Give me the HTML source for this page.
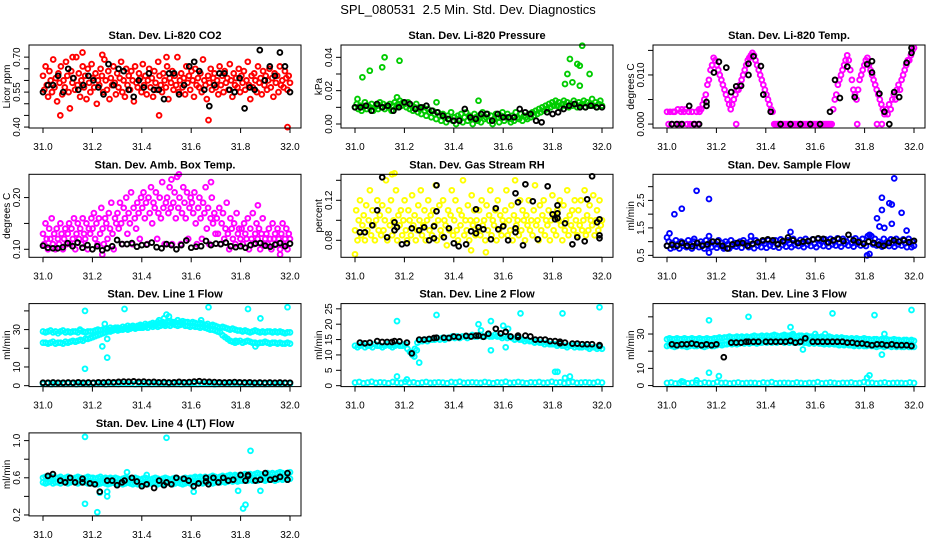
<!DOCTYPE html>
<html><head><meta charset="utf-8"><title>SPL_080531 2.5 Min. Std. Dev. Diagnostics</title>
<style>
html,body{margin:0;padding:0;background:#fff;}
svg{display:block;font-family:"Liberation Sans",Arial,sans-serif;}
</style></head>
<body>
<svg id="chart" width="936" height="540" viewBox="0 0 936 540" xmlns="http://www.w3.org/2000/svg">
<rect x="0" y="0" width="936" height="540" fill="#fff"/>
<text x="468" y="14" text-anchor="middle" font-size="13" style="white-space:pre">SPL_080531  2.5 Min. Std. Dev. Diagnostics</text>
</svg>
<script>
// ---------- DATA ----------
const xTicks = [31.0, 31.2, 31.4, 31.6, 31.8, 32.0];
const xTickLabels = ["31.0", "31.2", "31.4", "31.6", "31.8", "32.0"];

// Panel 1: CO2
const co2Red = [.62,.56,.66,.58,.53,.64,.60,.55,.69,.57,.61,.51,.63,.59,.66,.54,.60,.57,.68,.62,.55,.48,.64,.59,.61,.56,.70,.58,.63,.53,.60,.66,.57,.62,.52,.65,.59,.55,.67,.61,.57,.63,.50,.60,.58,.65,.62,.55,.69,.60,.56,.64,.52,.61,.58,.66,.59,.54,.63,.57,.61,.68,.55,.60,.53,.65,.58,.62,.56,.64,.60,.51,.66,.59,.57,.63,.61,.55,.67,.58,.62,.54,.60,.65,.57,.61,.53,.64,.59,.56,.68,.62,.58,.55,.63,.60,.57,.66,.52,.61,.59,.64,.56,.62,.58,.70,.55,.60,.63,.57,.61,.54,.66,.59,.62,.56,.64,.60,.53,.65,.58,.61,.57,.63,.55,.69,.60,.58,.52,.62,.59,.65,.56,.61,.63,.57,.60,.54,.66,.58,.62,.55,.64,.59,.61,.56,.67,.60,.53,.63,.58,.61,.57,.65,.55,.62,.59,.64,.56,.60,.68,.58,.52,.62,.57,.63,.60,.55,.66,.59,.61,.54,.64,.58,.62,.56,.60,.65,.57,.61,.53,.63,.59,.62,.55,.66,.58,.60,.57,.64,.61,.56,.62,.59];
const co2OutX = [31.07,31.16,31.47,31.67,31.99,31.12,31.24,31.50];
const co2OutY = [.45,.72,.45,.43,.40,.70,.71,.70];
const co2Black = [.55,.58,.58,.62,.55,.65,.61,.56,.58,.62,.60,.57,.54,.67,.58,.65,.64,.56,.53,.60,.57,.63,.56,.56,.52,.63,.63,.54,.58,.66,.68,.64,.56,.49,.58,.63,.63,.56,.55,.61,.48,.57,.56,.73,.60,.66,.62,.72,.66,.55];

// Panel 2: Pressure
const presGreen = [.010,.012,.009,.011,.008,.010,.013,.009,.011,.010,.012,.008,.010,.011,.009,.013,.010,.012,.009,.011,.010,.012,.008,.011,.013,.010,.012,.014,.011,.013,
.012,.010,.013,.009,.011,.008,.010,.012,.007,.009,.006,.010,.008,.005,.009,.007,.004,.008,.006,.003,.007,.005,
.002,.006,.004,.001,.005,.003,.007,.002,.004,.000,.005,.003,.006,.001,.004,.007,.002,.005,.003,.000,.006,.004,.002,.005,.001,.007,.003,.004,.006,.002,.005,.000,.003,.006,.004,.001,.005,.007,.002,.004,.006,.003,.001,.005,.002,.007,.004,.003,.006,.002,.005,.004,
.003,.006,.004,.007,.005,.008,.006,.009,.007,.010,.008,.011,.009,.012,.010,.013,.011,.014,
.011,.013,.010,.012,.014,.011,.013,.010,.012,.011,.014,.012,.010,.013,.011,.012,.014,.010,.013,.011,.012,.015,.011,.013,.010,.012,.014,.011];
const presOutX = [31.03,31.06,31.11,31.12,31.18,31.85,31.86,31.87,31.88,31.90,31.91,31.91,31.92,31.95,31.50,31.33,31.01,31.17];
const presOutY = [.028,.032,.034,.040,.038,.024,.030,.039,.025,.036,.035,.023,.047,.030,.014,.013,.015,.016];
const presBlack = [.010,.010,.011,.008,.012,.010,.011,.008,.010,.013,.012,.009,.010,.011,.008,.007,.005,.003,.002,.002,.009,.004,.003,.006,.006,.002,.006,.004,.004,.004,.009,.007,.006,.002,.001,.007,.006,.007,.009,.011,.012,.010,.010,.011,.010,.010];

// Panel 3: Li-820 Temp
const tempMag = [.0025,0,.0025,0,.0025,.0025,0,.003,0,.0025,0,.0025,.003,0,.0025,0,.0025,0,0,.0025,0,.0025,.003,.004,
.005,.006,.008,.009,.011,.012,.0135,.013,
.012,.011,.010,.009,.008,.007,.006,.005,.004,.003,
.004,.005,.006,.007,.007,.008,.009,.010,.011,.012,.013,.0135,.014,.0145,
.014,.013,.012,.011,.010,.009,.008,.007,.006,.005,.004,.003,.0025,
0,0,0,0,0,0,0,0,0,0,0,0,0,0,0,0,0,0,0,0,0,0,0,0,0,0,0,0,0,0,0,0,0,0,0,0,0,0,
.003,.005,.006,.008,.009,.010,.011,.012,.013,.014,
.013,.011,.009,.007,.006,.005,
.007,.009,.010,.011,.012,.013,.0135,
.012,.011,.010,.009,.008,.007,.006,.005,.004,.003,.002,
.003,.002,.004,.003,.005,.006,.005,.007,.008,.007,.009,.010,.011,.012,.013,.013,.014,.015,.0155];
const tempOutX = [31.28,31.77,31.85,31.87,31.06,31.13];
const tempOutY = [0,0,0,0,.003,.003];
const tempBlackX = [31.02,31.04,31.06,31.09,31.11,31.13,31.16,31.16,31.19,31.21,31.24,31.26,31.28,31.30,31.33,31.33,31.35,31.38,31.39,31.42,31.46,31.50,31.54,31.58,31.62,31.66,31.68,31.70,31.73,31.76,31.81,31.83,31.83,31.86,31.88,31.90,31.92,31.94,31.97,31.99,31.99];
const tempBlackY = [0,0,0,.0037,0,0,.0045,.0037,.0105,.0127,.0115,.0065,.0077,.0078,.0100,.0123,.0138,.0118,.0060,.0025,0,0,0,0,0,.0025,.0090,.0053,.0117,.0055,.0122,.0128,.0105,.0062,.0025,0,.0065,.0055,.0125,.0145,.0155];

// Panel 4: Amb. Box Temp
const ambMag = [.13,.11,.15,.12,.10,.14,.12,.16,.11,.13,.10,.14,.12,.11,.15,.13,.10,.12,.14,.11,
.13,.15,.11,.14,.12,.16,.10,.13,.15,.12,.14,.11,.16,.13,.12,.15,.10,.14,.13,.16,
.14,.17,.12,.15,.11,.16,.13,.18,.14,.11,.16,.15,.12,.17,.14,.19,.13,.10,.16,.15,
.17,.14,.19,.15,.11,.18,.16,.20,.13,.17,.15,.21,.11,.18,.16,.14,.19,.17,.12,.20,
.18,.21,.16,.19,.11,.20,.17,.22,.15,.19,.18,.21,.12,.17,.20,.16,.23,.18,.11,.19,
.20,.17,.22,.18,.11,.19,.21,.16,.24,.18,.20,.11,.17,.22,.19,.16,.21,.12,.18,.20,
.19,.17,.21,.15,.11,.18,.20,.16,.12,.19,.17,.22,.14,.18,.11,.16,.20,.15,.17,.13,
.16,.13,.18,.11,.15,.17,.12,.14,.19,.13,.10,.16,.14,.12,.15,.11,.17,.13,.14,.12,
.14,.11,.15,.13,.12,.16,.10,.14,.12,.17,.11,.13,.15,.12,.14,.10,.13,.16,.11,.12,
.13,.11,.14,.12,.10,.15,.12,.13,.11,.14,.12,.10,.13,.15,.11,.12,.14,.10,.13,.12];
const ambOutX = [31.55,31.52,31.68,31.24,31.96,31.87];
const ambOutY = [.245,.235,.23,.09,.09,.185];
const ambBlack = [.107,.103,.102,.102,.104,.112,.106,.113,.103,.108,.100,.106,.098,.102,.106,.118,.110,.110,.112,.105,.108,.109,.113,.104,.102,.110,.108,.100,.108,.117,.103,.105,.106,.116,.108,.111,.110,.113,.106,.104,.106,.103,.108,.111,.112,.107,.105,.109,.112,.106,.111];

// Panel 5: Gas Stream RH
const rhYellow = [.09,.11,.08,.10,.12,.085,.095,.105,.08,.115,.09,.10,.13,.085,.11,.095,.08,.10,.12,.09,
.105,.085,.115,.09,.10,.14,.08,.11,.095,.12,.085,.10,.09,.13,.08,.105,.095,.11,.085,.10,
.12,.09,.08,.11,.10,.085,.125,.095,.105,.08,.09,.115,.10,.13,.085,.095,.11,.08,.10,.12,
.09,.105,.085,.11,.095,.135,.08,.10,.115,.09,.085,.12,.10,.095,.075,.11,.09,.105,.13,.085,
.10,.12,.09,.08,.11,.095,.105,.14,.085,.10,.09,.115,.08,.10,.125,.095,.11,.085,.10,.09,
.11,.085,.12,.095,.10,.08,.115,.09,.105,.13,.085,.10,.095,.11,.08,.12,.09,.105,.085,.10,
.095,.11,.13,.085,.10,.09,.115,.08,.105,.14,.095,.10,.085,.12,.09,.11,.10,.08,.105,.095,
.12,.09,.10,.085,.11,.135,.095,.10,.08,.115,.09,.105,.12,.085,.10,.095,.11,.08,.10,.125,
.09,.105,.085,.11,.10,.12,.095,.08,.115,.09,.10,.13,.085,.105,.095,.11,.09,.12,.10,.085,
.11,.095,.12,.09,.10,.13,.085,.105,.09,.115,.10,.095,.125,.085,.10,.11,.09,.12,.095,.10];
const rhOutX = [31.0,31.15,31.16,31.47,31.53];
const rhOutY = [.066,.146,.147,.070,.068];
const rhBlackX = [31.02,31.04,31.07,31.09,31.11,31.13,31.16,31.16,31.17,31.19,31.21,31.23,31.26,31.28,31.30,31.32,31.32,31.33,31.33,31.36,31.38,31.40,31.42,31.45,31.47,31.49,31.49,31.50,31.52,31.55,31.57,31.58,31.60,31.62,31.65,31.65,31.65,31.66,31.68,31.69,31.72,31.74,31.78,31.80,31.81,31.82,31.82,31.82,31.85,31.88,31.90,31.93,31.94,31.96,31.98,31.99,31.99,31.99];
const rhBlackY = [.088,.088,.095,.110,.143,.083,.098,.090,.093,.076,.077,.092,.090,.093,.080,.082,.094,.109,.135,.083,.092,.077,.074,.076,.089,.087,.111,.093,.091,.081,.112,.091,.094,.080,.092,.088,.127,.118,.075,.136,.119,.081,.134,.106,.101,.102,.115,.107,.097,.076,.083,.079,.121,.144,.098,.101,.082,.085];

// Panel 6: Sample Flow
const flowBlue = [.85,1.0,.75,.95,.8,1.05,.9,.75,1.0,.85,.95,.8,1.05,.9,.75,1.0,.85,.95,.8,1.0,
.9,.75,1.05,.85,.95,.8,1.0,.9,.78,1.05,.85,.95,.8,1.0,.9,.75,1.05,.85,.95,.82,
.9,1.0,.78,1.05,.88,.95,.8,1.02,.9,.76,1.05,.86,.95,.8,1.0,.92,.78,1.05,.86,.98,
.82,1.05,.9,.78,1.08,.88,.98,.82,1.05,.92,.8,1.1,.88,.98,.84,1.06,.92,.8,1.1,.9,
1.0,.84,1.08,.92,.8,1.1,.9,1.0,.84,1.08,.94,.82,1.1,.9,1.0,.86,1.12,.94,.82,1.1,
.92,1.0,.86,1.1,.94,.82,1.12,.92,1.02,.86,1.1,.94,.84,1.2,1.25,1.2,.9,1.1,.86,1.0,
.92,.82,1.1,.9,1.0,.84,1.08,.94,.82,1.1,.9,1.02,.86,1.08,.94,.8,1.1,.92,1.0,.85];
const flowOutX = [31.03,31.06,31.11,31.12,31.17,31.82,31.81,31.85,31.86,31.87,31.87,31.88,31.90,31.91,31.91,31.92,31.95,31.0,31.01,31.97,31.99,31.17,31.23,31.50,31.34,31.17];
const flowOutY = [2.0,2.2,1.1,2.85,2.55,.55,.5,1.85,1.55,2.15,2.6,1.5,2.4,1.65,2.35,3.3,2.05,1.15,1.3,1.4,.8,.6,.75,1.35,1.2,1.2];
const flowBlack = [.85,.88,.85,.95,.85,.83,.95,.85,.90,1.0,1.0,.85,.75,.90,.95,.95,.85,.92,.98,1.05,1.08,1.05,.90,1.02,1.15,1.05,.95,1.0,1.02,1.08,1.12,1.10,.98,1.05,1.1,1.02,1.25,1.05,.98,.92,1.0,.95,.88,.85,.95,1.05,1.0,1.05,.98,1.03];

// Panel 7: Line 1 Flow
const l1Upper = [29,28.5,29,29.5,28.5,29,28,29,29.5,28.5,29,28.5,29,29,28.5,29.5,29,28.5,29,29,
29,29.5,30,29.5,30,30.5,30,31,30.5,31,31,30.5,31.5,31,32,31.5,32,31.5,32,32.5,
32,33,32.5,33,33.5,33,34,33.5,34,33.5,34,34.5,34,34,35,34,34.5,34,34,33.5,
34,33.5,33,33.5,33,32.5,33,32,32.5,32,31.5,31,31.5,31,30.5,30,30.5,30,29.5,29.5,
29,29.5,29,28.5,29,29.5,29,28.5,29,28.5,29,29,28.5,29,28.5,29,28.5,28,28.5,28.5];
const l1Lower = [23,23,22.5,23,23.5,22.5,23,23,22.5,23.5,23,23.5,24,23.5,24,24.5,24,25,25,25.5,
26,26.5,27,27.5,28,28.5,29,29,29.5,30,29.5,30,30,30.5,30,30.5,31,30.5,31,31,
31,31.5,31,32,31.5,32,31.5,32,32.5,32,32.5,32,33,32.5,32,32.5,33,32,32,31.5,
32,31.5,31.5,31,31.5,31,30.5,30,30,29.5,29,28.5,27,26,25,24,23.5,23,23.5,24,
23,23.5,24,23.5,23,23,22.5,23,23,23.5,23,22.5,23,23,22.5,23,22.5,22.5,23,22.5];
const l1Zero = [1,1.2,.8,1,1.3,.9,1.1,1,.8,1.2,1,.9,1.3,1,1.1,.8,1,1.2,.9,1,1.1,1,.8,1.2,1,1.3,.9,1,1.1,1,
.9,1.2,1,.8,1.1,1,1.3,.9,1,1.2,1,.8,1.1,1,1.2,.9,1,1.3,1,1.1,.8,1,1.2,.9,1,1.1,1,.9,1.2,1];
const l1OutX = [31.17,31.17,31.24,31.26,31.33,31.49,31.51,31.67,31.83,31.88,31.99,31.15,31.25,31.26,31.64,31.78,31.86,31.47,31.50];
const l1OutY = [40,9,21,15,41,36,37,42,41,36,42,30,33,25,35,24,21,35,38];
const l1Black = [1.6,1.6,1.7,1.6,1.6,1.7,1.6,1.8,1.6,1.7,1.6,1.8,1.7,1.9,1.8,2.0,2.2,2.1,2.3,2.0,2.2,1.9,2.0,1.8,1.9,1.7,1.8,2.0,1.8,1.9,2.2,2.4,2.1,2.0,1.9,1.8,1.7,1.8,1.9,1.8,1.7,1.8,1.6,1.7,1.6,1.7,1.6,1.7,1.6,1.6];

// Panel 8: Line 2 Flow
const l2Band = [13,12.5,13,13.5,12.5,13,13,12.5,13.5,13,13,12.5,13,13.5,13,12.5,13,13.5,13,13,
13.5,12,11,10,12,14,14.5,14.5,15,14.5,15,15,15,15.5,15,15.5,15,15.5,15.5,16,
15.5,16,15.5,16,16,15.5,16,16.5,16,16,16.5,16,16,16.5,16,16,16.5,16,16,15.5,
16,15.5,16,15.5,15,15.5,15,15,14.5,15,14.5,14.5,14,14.5,14,14,13.5,14,13.5,13.5,
13.5,13,13.5,13,13,12.5,13,13,12.5,13,12.5,12.5,13,12.5,12,12.5,12.5,12,12.5,12];
const l2Zero = [1,1.2,.8,1,1.3,.9,1.1,1,.8,1.2,1,.9,1.3,1,1.1,.8,1,1.2,.9,1,1.1,1,.8,1.2,1,1.3,.9,1,1.1,1,
.9,1.2,1,.8,1.1,1,1.3,.9,1,1.2,1,.8,1.1,1,1.2,.9,1,1.3,1,1.1,.8,1,1.2,.9,1,1.1,1,.9,1.2,1];
const l2OutX = [31.17,31.17,31.21,31.24,31.25,31.26,31.33,31.50,31.51,31.55,31.55,31.60,31.61,31.62,31.67,31.81,31.82,31.84,31.85,31.87,31.99];
const l2OutY = [21,3,2,9.5,11.5,7.5,23,20,18,21,11.5,19.5,12.5,18.5,23.5,4.5,4.5,23.5,2.5,3,25.5];
const l2BlackX = [31.02,31.04,31.06,31.09,31.11,31.13,31.15,31.16,31.18,31.21,31.23,31.26,31.28,31.30,31.32,31.33,31.36,31.38,31.40,31.42,31.45,31.47,31.49,31.50,31.52,31.54,31.57,31.59,31.61,31.63,31.66,31.66,31.69,31.71,31.73,31.75,31.77,31.79,31.81,31.83,31.83,31.85,31.88,31.90,31.92,31.94,31.96,31.99,31.99];
const l2BlackY = [14,13.8,14,14.5,14.2,14.2,14.2,14.5,14.4,14,10.5,15,15,15.2,15.5,15.6,15.6,15.5,16,15.8,16.2,16,16.3,16.3,15.9,16.9,18.5,17,17.5,16,15.8,16.3,16.3,16,15,15,15,14.5,14.5,13.8,14.3,14,13.7,13.7,13.5,13.5,13.5,13,13.2];

// Panel 9: Line 3 Flow
const l3BandA = [23,23.5,23,22.5,23,23.5,23,23,22.5,23,23.5,23,23,23.5,23,22.5,23,23.5,23,23,
23.5,24,23.5,24,24,24.5,24,24.5,24,24.5,25,24.5,25,24.5,25,25,24.5,25,25,25.5,
25,25.5,25,25.5,25,25.5,26,25,25.5,25,25.5,25,25.5,25,25.5,25,25,24.5,25,24.5,
25,24.5,24.5,24,24.5,24,24.5,24,24,23.5,24,23.5,24,23.5,23.5,23,23.5,23,23.5,23,
23,23.5,23,23,22.5,23,23,22.5,23,23,22.5,23,22.5,23,22.5,22.5,23,22.5,22.5,22.5];
const l3BandB = [27,27.5,27,27,27.5,27,27,27.5,27,27,27.5,27,27,27.5,27,27,27.5,27,27,27.5,
27.5,28,27.5,28,28,28.5,28,28,28.5,28,28.5,28,28.5,28,28.5,29,28.5,28.5,29,28.5,
29,28.5,29,29.5,29,28.5,29,29.5,29,29,29.5,29,28.5,29,29,28.5,29,28.5,28.5,28,
28.5,28,28.5,28,28,28.5,28,27.5,28,27.5,28,27.5,27.5,27,27.5,27,27.5,27,27,27.5,
27,27,26.5,27,27,26.5,27,26.5,27,26.5,26.5,27,26.5,26.5,26,26.5,26.5,26,26.5,26];
const l3Zero = [1.5,1.8,1.2,1.5,2,1.3,1.6,1.5,1.2,1.8,1.5,1.3,2,1.5,1.6,1.2,1.5,1.8,1.3,1.5,1.6,1.5,1.2,1.8,1.5,2,1.3,1.5,1.6,1.5,
1.3,1.8,1.5,1.2,1.6,1.5,2,1.3,1.5,1.8,1.5,1.2,1.6,1.5,1.8,1.3,1.5,2,1.5,1.6,1.2,1.5,1.8,1.3,1.5,1.6,1.5,1.3,1.8,1.5];
const l3OutX = [31.17,31.17,31.21,31.33,31.48,31.50,31.51,31.55,31.58,31.67,31.81,31.82,31.84,31.87,31.88,31.99,31.12,31.06,31.60,31.64];
const l3OutY = [38,7.5,5.5,40,28,34,30,21,28,42,4.5,6,41,18,30,44,3,2.5,30,30];
const l3BlackX = [31.02,31.04,31.06,31.08,31.10,31.12,31.14,31.16,31.18,31.20,31.23,31.26,31.28,31.30,31.32,31.33,31.35,31.37,31.40,31.42,31.44,31.46,31.48,31.50,31.52,31.54,31.56,31.59,31.61,31.63,31.65,31.67,31.69,31.71,31.73,31.75,31.77,31.79,31.81,31.83,31.85,31.87,31.89,31.91,31.93,31.95,31.97,31.99];
const l3BlackY = [24,23.5,24,24,24.5,24,23.5,24,23.5,24,16.5,25,25,25,25.5,25.5,25.5,25.5,25.5,25.5,25.5,25.5,25.5,26,25,25.5,27.5,25.5,25.5,25.5,25.5,25.5,25.5,25.5,25,25,24.5,24.5,24,23.5,24,24,23.5,24,23.5,23.5,23.5,23];

// Panel 10: Line 4 (LT) Flow
const l4BandA = [.55,.54,.55,.56,.54,.55,.55,.54,.56,.55,.54,.55,.56,.55,.54,.55,.56,.55,.54,.55,
.54,.55,.53,.54,.55,.54,.53,.54,.55,.54,.53,.54,.53,.54,.55,.54,.53,.54,.53,.54,
.53,.54,.53,.54,.55,.54,.53,.54,.53,.54,.55,.54,.53,.54,.55,.54,.53,.54,.55,.54,
.54,.55,.54,.55,.54,.55,.56,.55,.54,.55,.56,.55,.56,.55,.56,.57,.56,.57,.56,.57,
.57,.58,.57,.58,.57,.58,.57,.58,.58,.57,.58,.59,.58,.57,.58,.59,.58,.59,.58,.59];
const l4BandB = [.60,.61,.60,.59,.61,.60,.60,.61,.59,.60,.61,.60,.59,.60,.61,.60,.59,.60,.61,.60,
.60,.59,.60,.61,.59,.60,.59,.60,.59,.60,.59,.58,.59,.60,.59,.58,.59,.60,.59,.58,
.59,.60,.59,.58,.59,.60,.59,.58,.59,.60,.59,.58,.59,.60,.59,.58,.59,.60,.59,.60,
.60,.61,.60,.61,.60,.61,.60,.61,.62,.61,.60,.61,.62,.61,.62,.63,.62,.63,.62,.63,
.63,.64,.63,.64,.63,.64,.65,.64,.63,.64,.65,.64,.65,.64,.65,.66,.65,.64,.65,.66];
const l4OutX = [31.17,31.17,31.22,31.26,31.26,31.34,31.50,31.61,31.79,31.81,31.82,31.84,31.88,31.23,31.42];
const l4OutY = [1.04,.32,.23,.40,.45,.66,1.03,.45,.46,.27,.31,.89,.46,.44,.63];
const l4BlackX = [31.02,31.04,31.07,31.09,31.11,31.13,31.16,31.16,31.19,31.21,31.23,31.26,31.28,31.30,31.32,31.33,31.36,31.38,31.40,31.42,31.45,31.47,31.49,31.50,31.52,31.54,31.57,31.59,31.61,31.63,31.66,31.66,31.67,31.69,31.71,31.73,31.75,31.77,31.80,31.82,31.83,31.83,31.86,31.88,31.90,31.92,31.94,31.96,31.99,31.99];
const l4BlackY = [.62,.64,.57,.55,.60,.55,.55,.59,.54,.53,.45,.57,.57,.52,.55,.57,.60,.56,.51,.53,.49,.57,.52,.55,.53,.60,.59,.57,.51,.54,.56,.60,.53,.60,.55,.60,.57,.58,.63,.57,.63,.62,.57,.58,.65,.58,.59,.61,.58,.65];

// ---------- RENDER ----------
const svg = document.getElementById('chart');
const NS = 'http://www.w3.org/2000/svg';
function mk(tag, attrs, parent) {
  const e = document.createElementNS(NS, tag);
  for (const k in attrs) e.setAttribute(k, attrs[k]);
  (parent || svg).appendChild(e);
  return e;
}
function seq(n) { const a = []; for (let i = 0; i < n; i++) a.push(31.0 + i / (n - 1)); return a; }

function panel(p) {
  const col = p.col, row = p.row;
  const x31 = 43 + 312 * col, pxu = 247;
  const left = x31 - 14, right = x31 + 258;
  const top = 45 + 129.3 * row, bottom = top + 83;
  const sx = v => x31 + (v - 31.0) * pxu;
  const sy = v => bottom - (v - p.yb) / (p.yt - p.yb) * (bottom - top);
  const g = mk('g', {});
  
  

  const title = mk('text', {x: (left + right) / 2, y: top - 6, 'text-anchor': 'middle', 'font-size': 11, 'font-weight': 'bold'}, g);
  
  
  title.textContent = p.title;

  const pts = mk('g', {fill: 'none', 'stroke-width': 1.9}, g);
  
  
  function draw(xs, ys, color, nm) {
    const sg = mk('g', {stroke: color}, pts);
    
    
    for (let i = 0; i < ys.length; i++) {
      const c = mk('circle', {cx: sx(xs[i]).toFixed(1), cy: sy(ys[i]).toFixed(1), r: 2.4}, sg);
      
      
    }
  }
  p.series.forEach(s => draw(s.x || seq(s.y.length), s.y, s.color, s.nm));

  const box = mk('rect', {x: left, y: top, width: right - left, height: bottom - top, fill: 'none', stroke: '#000', 'stroke-width': 1}, g);
  
  

  const xa = mk('g', {}, g);
  
  
  mk('line', {x1: sx(xTicks[0]), x2: sx(xTicks[xTicks.length - 1]), y1: bottom, y2: bottom, stroke: '#000'}, xa);
  xTicks.forEach((t, i) => {
    mk('line', {x1: sx(t), x2: sx(t), y1: bottom, y2: bottom + 5, stroke: '#000'}, xa);
    const tl = mk('text', {x: sx(t), y: bottom + 22, 'text-anchor': 'middle', 'font-size': 10}, xa);
    
    
    tl.textContent = xTickLabels[i];
  });

  const ya = mk('g', {}, g);
  
  
  mk('line', {x1: left, x2: left, y1: sy(p.yTicks[0]), y2: sy(p.yTicks[p.yTicks.length - 1]), stroke: '#000'}, ya);
  p.yTicks.forEach((t, i) => {
    mk('line', {x1: left - 5, x2: left, y1: sy(t), y2: sy(t), stroke: '#000'}, ya);
    if (p.yLabels[i]) {
      const yy = sy(t), xx = left - 9;
      const tl = mk('text', {x: xx, y: yy, 'text-anchor': 'middle', 'font-size': 10, transform: `rotate(-90 ${xx} ${yy})`}, ya);
      
      
      tl.textContent = p.yLabels[i];
    }
  });
  const cy = (top + bottom) / 2, lx = left - 19;
  const yl = mk('text', {x: lx, y: cy, 'text-anchor': 'middle', 'font-size': 10, transform: `rotate(-90 ${lx} ${cy})`}, g);
  
  
  yl.textContent = p.ylab;
}

const RED = '#ff0000', GRN = '#00cc00', MAG = '#ff00ff', YEL = '#ffff00', BLU = '#0000ff', CYN = '#00ffff', BLK = '#000000';

panel({name: 'co2', col: 0, row: 0, title: 'Stan. Dev. Li-820 CO2', ylab: 'Licor ppm', yb: 0.396, yt: 0.752,
  yTicks: [0.40, 0.45, 0.50, 0.55, 0.60, 0.65, 0.70], yLabels: ['0.40', '', '', '0.55', '', '', '0.70'],
  series: [{y: co2Red, color: RED, nm: 'co2-series'}, {x: co2OutX, y: co2OutY, color: RED, nm: 'co2-outliers'}, {y: co2Black, color: BLK, nm: 'co2-black-series'}]});

panel({name: 'pressure', col: 1, row: 0, title: 'Stan. Dev. Li-820 Pressure', ylab: 'kPa', yb: -0.0024, yt: 0.0474,
  yTicks: [0, 0.01, 0.02, 0.03, 0.04], yLabels: ['0.00', '', '0.02', '', '0.04'],
  series: [{y: presGreen, color: GRN, nm: 'pressure-series'}, {x: presOutX, y: presOutY, color: GRN, nm: 'pressure-outliers'}, {y: presBlack, color: BLK, nm: 'pressure-black-series'}]});

panel({name: 'li820-temp', col: 2, row: 0, title: 'Stan. Dev. Li-820 Temp.', ylab: 'degrees C', yb: -0.0008, yt: 0.0161,
  yTicks: [0, 0.005, 0.010, 0.015], yLabels: ['0.000', '', '0.010', ''],
  series: [{y: tempMag, color: MAG, nm: 'li820-temp-series'}, {x: tempOutX, y: tempOutY, color: MAG, nm: 'li820-temp-outliers'}, {x: tempBlackX, y: tempBlackY, color: BLK, nm: 'li820-temp-black-series'}]});

panel({name: 'amb-box-temp', col: 0, row: 1, title: 'Stan. Dev. Amb. Box Temp.', ylab: 'degrees C', yb: 0.0845, yt: 0.245,
  yTicks: [0.10, 0.15, 0.20], yLabels: ['0.10', '', '0.20'],
  series: [{y: ambMag, color: MAG, nm: 'amb-box-temp-series'}, {x: ambOutX, y: ambOutY, color: MAG, nm: 'amb-box-temp-outliers'}, {y: ambBlack, color: BLK, nm: 'amb-box-temp-black-series'}]});

panel({name: 'gas-rh', col: 1, row: 1, title: 'Stan. Dev. Gas Stream RH', ylab: 'percent', yb: 0.063, yt: 0.146,
  yTicks: [0.08, 0.10, 0.12, 0.14], yLabels: ['0.08', '', '0.12', ''],
  series: [{y: rhYellow, color: YEL, nm: 'gas-rh-series'}, {x: rhOutX, y: rhOutY, color: YEL, nm: 'gas-rh-outliers'}, {x: rhBlackX, y: rhBlackY, color: BLK, nm: 'gas-rh-black-series'}]});

panel({name: 'sample-flow', col: 2, row: 1, title: 'Stan. Dev. Sample Flow', ylab: 'ml/min', yb: 0.43, yt: 3.45,
  yTicks: [0.5, 1.0, 1.5, 2.0, 2.5, 3.0], yLabels: ['0.5', '', '1.5', '', '2.5', ''],
  series: [{y: flowBlue, color: BLU, nm: 'sample-flow-series'}, {x: flowOutX, y: flowOutY, color: BLU, nm: 'sample-flow-outliers'}, {y: flowBlack, color: BLK, nm: 'sample-flow-black-series'}]});

panel({name: 'line1-flow', col: 0, row: 2, title: 'Stan. Dev. Line 1 Flow', ylab: 'ml/min', yb: -0.5, yt: 43.9,
  yTicks: [0, 10, 20, 30, 40], yLabels: ['0', '10', '', '30', ''],
  series: [{y: l1Upper, color: CYN, nm: 'line1-upper-series'}, {y: l1Lower, color: CYN, nm: 'line1-lower-series'}, {y: l1Zero, color: CYN, nm: 'line1-zero-series'}, {x: l1OutX, y: l1OutY, color: CYN, nm: 'line1-outliers'}, {y: l1Black, color: BLK, nm: 'line1-black-series'}]});

panel({name: 'line2-flow', col: 1, row: 2, title: 'Stan. Dev. Line 2 Flow', ylab: 'ml/min', yb: -0.3, yt: 26.7,
  yTicks: [0, 5, 10, 15, 20, 25], yLabels: ['0', '5', '10', '15', '20', '25'],
  series: [{y: l2Band, color: CYN, nm: 'line2-series'}, {y: l2Zero, color: CYN, nm: 'line2-zero-series'}, {x: l2OutX, y: l2OutY, color: CYN, nm: 'line2-outliers'}, {x: l2BlackX, y: l2BlackY, color: BLK, nm: 'line2-black-series'}]});

panel({name: 'line3-flow', col: 2, row: 2, title: 'Stan. Dev. Line 3 Flow', ylab: 'ml/min', yb: -0.6, yt: 47.7,
  yTicks: [0, 10, 20, 30, 40], yLabels: ['0', '10', '', '30', ''],
  series: [{y: l3BandA, color: CYN, nm: 'line3-lower-series'}, {y: l3BandB, color: CYN, nm: 'line3-upper-series'}, {y: l3Zero, color: CYN, nm: 'line3-zero-series'}, {x: l3OutX, y: l3OutY, color: CYN, nm: 'line3-outliers'}, {x: l3BlackX, y: l3BlackY, color: BLK, nm: 'line3-black-series'}]});

panel({name: 'line4-flow', col: 0, row: 3, title: 'Stan. Dev. Line 4 (LT) Flow', ylab: 'ml/min', yb: 0.19, yt: 1.083,
  yTicks: [0.2, 0.4, 0.6, 0.8, 1.0], yLabels: ['0.2', '', '0.6', '', '1.0'],
  series: [{y: l4BandA, color: CYN, nm: 'line4-lower-series'}, {y: l4BandB, color: CYN, nm: 'line4-upper-series'}, {x: l4OutX, y: l4OutY, color: CYN, nm: 'line4-outliers'}, {x: l4BlackX, y: l4BlackY, color: BLK, nm: 'line4-black-series'}]});
</script>
</body></html>
